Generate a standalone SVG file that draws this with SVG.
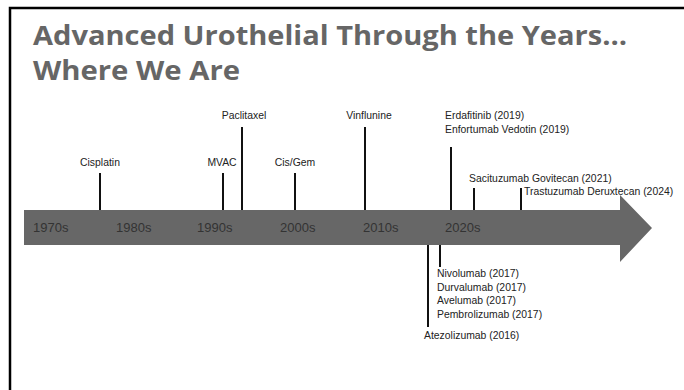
<svg xmlns="http://www.w3.org/2000/svg" width="684" height="390" viewBox="0 0 684 390">
<style>
.title{font-family:"Open Sans",Lato,sans-serif;font-weight:bold;font-size:26.5px;fill:#666}
.dec{font-family:"Liberation Sans",Arial,sans-serif;font-size:13px;fill:#333}
.lbl{font-family:"Liberation Sans",Arial,sans-serif;font-size:10.4px;fill:#222}
.tick{stroke:#111;stroke-width:2}
</style>
<rect x="0" y="0" width="684" height="390" fill="#fff"/>
<path d="M10 400 V8 H690" fill="none" stroke="#000" stroke-width="2.5"/>
<g id="title">
<text class="title" x="33" y="45" textLength="594" lengthAdjust="spacingAndGlyphs">Advanced Urothelial Through the Years…</text>
<text class="title" x="33" y="80" textLength="207" lengthAdjust="spacingAndGlyphs">Where We Are</text>
</g>
<g id="timeline">
<polygon points="24,210 620,210 620,195 652,228 620,262 620,245 24,245" fill="#676767"/>
<text class="dec" x="33" y="232">1970s</text>
<text class="dec" x="116" y="232">1980s</text>
<text class="dec" x="197" y="232">1990s</text>
<text class="dec" x="280" y="232">2000s</text>
<text class="dec" x="363" y="232">2010s</text>
<text class="dec" x="445" y="232">2020s</text>
</g>
<g id="connectors">
<line class="tick" x1="100" y1="173" x2="100" y2="210"/>
<line class="tick" x1="223" y1="173" x2="223" y2="210"/>
<line class="tick" x1="242" y1="127" x2="242" y2="210"/>
<line class="tick" x1="295" y1="173" x2="295" y2="210"/>
<line class="tick" x1="365" y1="127" x2="365" y2="210"/>
<line class="tick" x1="451" y1="147" x2="451" y2="210"/>
<line class="tick" x1="474" y1="188" x2="474" y2="210"/>
<line class="tick" x1="521" y1="188" x2="521" y2="210"/>
<line class="tick" x1="428" y1="245" x2="428" y2="327"/>
<line class="tick" x1="440" y1="245" x2="440" y2="267"/>
</g>
<g id="cisplatin"><text class="lbl" x="100" y="166" text-anchor="middle">Cisplatin</text></g>
<g id="mvac"><text class="lbl" x="222" y="166" text-anchor="middle">MVAC</text></g>
<g id="paclitaxel"><text class="lbl" x="244" y="119" text-anchor="middle">Paclitaxel</text></g>
<g id="cisgem"><text class="lbl" x="295" y="166" text-anchor="middle">Cis/Gem</text></g>
<g id="vinflunine"><text class="lbl" x="369" y="119" text-anchor="middle">Vinflunine</text></g>
<g id="erdafitinib">
<text class="lbl" x="445" y="119">Erdafitinib (2019)</text>
<text class="lbl" x="445" y="133">Enfortumab Vedotin (2019)</text>
</g>
<g id="sacituzumab"><text class="lbl" x="469" y="182">Sacituzumab Govitecan (2021)</text></g>
<g id="trastuzumab"><text class="lbl" x="524" y="195">Trastuzumab Deruxtecan (2024)</text></g>
<g id="checkpoint">
<text class="lbl" x="437" y="277">Nivolumab (2017)</text>
<text class="lbl" x="437" y="291">Durvalumab (2017)</text>
<text class="lbl" x="437" y="304">Avelumab (2017)</text>
<text class="lbl" x="437" y="318">Pembrolizumab (2017)</text>
</g>
<g id="atezolizumab"><text class="lbl" x="424" y="339">Atezolizumab (2016)</text></g>
</svg>
